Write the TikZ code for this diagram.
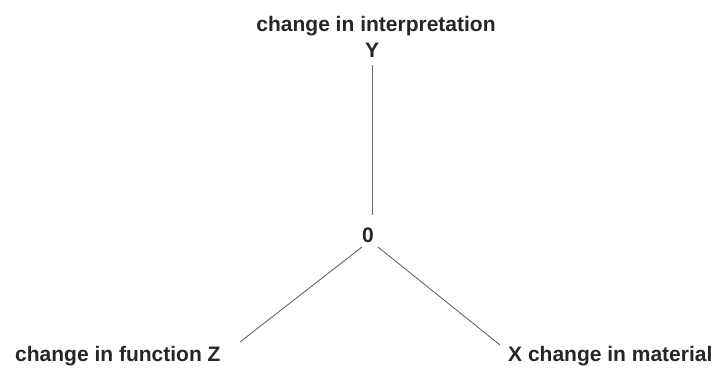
\documentclass[tikz,border=0pt]{standalone}
\usepackage{fontspec}
\setmainfont{Liberation Sans}
\begin{document}
\begin{tikzpicture}[x=1pt,y=-1pt,
  lab/.style={font=\fontsize{21}{24}\selectfont\bfseries, text=black!85, inner sep=0pt, anchor=base},
  conn/.style={draw=black!60, line width=0.9pt}]
\useasboundingbox (0,0) rectangle (723,369);
\node[lab] (top) at (376,32) {change in interpretation};
\node[lab] (Y) at (372,58) {Y};
\node[lab] (O) at (368,242) {0};
\node[lab, anchor=base west] (Z) at (15,361) {change in function Z};
\node[lab, anchor=base west] (X) at (508,361) {X change in material};
\coordinate (ytop) at (372,65);
\coordinate (ybot) at (372,215);
\coordinate (ls) at (362,247);
\coordinate (le) at (240,342);
\coordinate (rs) at (378,247);
\coordinate (re) at (500,345);
\draw[conn] (ytop) -- (ybot);
\draw[conn] (ls) -- (le);
\draw[conn] (rs) -- (re);
\end{tikzpicture}
\end{document}
